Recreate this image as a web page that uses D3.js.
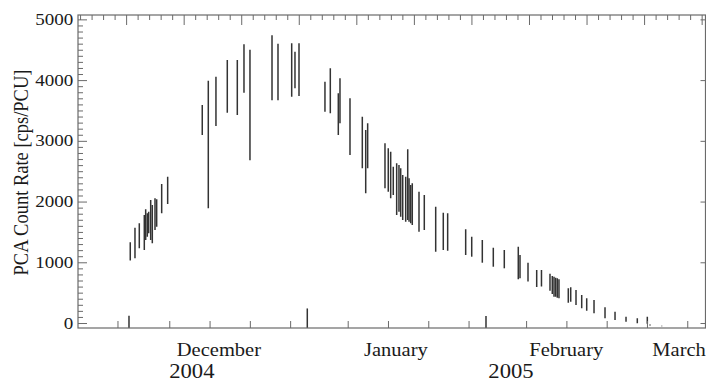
<!DOCTYPE html>
<html>
<head>
<meta charset="utf-8">
<script src="https://cdn.jsdelivr.net/npm/d3@7"></script>
<style>
  html, body { margin: 0; padding: 0; background: #fff; }
  svg { display: block; }
</style>
</head>
<body>
<svg id="chart" width="706" height="383"></svg>
<script>
// PCA light curve of the 2004/2005 outburst.
// Observation times in days counted from 2004 Dec 1, 0h UT,
// with the low / high end of the count-rate range for each pointing.
const obsDay = [
  -7.00, -6.78, -5.96, -5.21, -4.34, -4.10, -3.82, -3.58, -3.23, -2.95,
  -2.48, -2.19, -1.32, -0.28,  5.73,  6.78,  8.11, 10.08, 11.82, 12.98,
  14.02, 17.85, 18.89, 21.27, 21.84, 22.54, 23.98, 27.05, 27.98, 29.37,
  29.66, 31.40, 33.54, 34.13, 34.47, 37.48, 38.05, 38.47, 38.92, 39.51,
  39.91, 40.21, 40.56, 41.08, 41.43, 41.66, 41.95, 42.22, 43.39, 44.31,
  46.29, 47.61, 48.37, 51.50, 52.55, 54.39, 55.03, 56.30, 58.21, 60.64,
  60.94, 62.33, 63.84, 64.67, 66.15, 66.55, 66.85, 67.14, 67.42, 67.71,
  69.33, 69.75, 70.67, 71.66, 72.53, 73.80, 75.71, 77.45, 79.36, 81.32,
  83.06, 83.53, 85.56
];
const rateLow = [
  -150, 1030, 1066, 1230, 1202, 1367, 1421, 1477, 1367, 1312,
  1532, 1586, 1806, 1960, 3096, 1889, 3244, 3463, 3425, 3790,
  2680, 3670, 3670, 3727, 3865, 3738, -150, 3480, 3454, 3096,
  3289, 2767, 2548, 2136, 2548, 2218, 2162, 2053, 2108, 1779,
  1833, 1751, 1696, 1669, 1696, 1669, 1641, 1614, 1504, 1532,
  1174, 1202, 1191, 1120, 1092,  993, -150,  927,  901,  720,
   736,  685,  593,  603,  530,  478,  433,  433,  417,  407,
   334,  351,  296,  242,  203,  160,   77,   49,   21,   -5,
   -10,  -40,  -55
];
const rateHigh = [
   120, 1330, 1570, 1642, 1779, 1872, 1806, 1833, 2026, 1943,
  2053, 2037, 2289, 2410, 3590, 3990, 4057, 4331, 4331, 4590,
  4500, 4740, 4600, 4605, 4468, 4605,  240, 3974, 4194, 3782,
  4030, 3700, 3398, 3179, 3289, 2959, 2877, 2822, 2574, 2630,
  2602, 2548, 2437, 2410, 2860, 2382, 2273, 2300, 2163, 2108,
  1916, 1817, 1806, 1543, 1421, 1367,  115, 1240, 1202, 1257,
  1120,  993,  873,  873,  810,  774,  763,  746,  736,  720,
   571,  588,  543,  461,  407,  379,  259,  186,  104,   77,
   104,  -25,  -45
];

// Axis annotations
const rateTicks = [0, 1000, 2000, 3000, 4000, 5000];
const dateTicks = [
  "2004-11-22", "2004-12-01", "2004-12-08", "2004-12-15", "2004-12-22",
  "2005-01-01", "2005-01-08", "2005-01-15", "2005-01-22",
  "2005-02-01", "2005-02-08", "2005-02-15", "2005-02-22", "2005-03-01"
];
const monthNames = ["December", "January", "February", "March"];
const monthLabelAt = ["2004-12-09T15:00", "2005-01-09T09:00", "2005-02-07T23:30", "2005-02-27T14:00"];
const yearNames = ["2004", "2005"];
const yearLabelAt = ["2004-12-04T22:00", "2005-01-29T09:00"];
// The top axis counts days in steps of 2, with a long tick every 10 days.
const dayAxisStart = "2004-11-23T12:00";

const day0 = Date.parse("2004-12-01T00:00:00Z");
const toDay = s => (Date.parse((s.length === 10 ? s + "T00:00" : s) + ":00Z") - day0) / 864e5;

const svg = d3.select("#chart");
const L = 78, R = 705.5, T = 15, B = 328;
const FONT = "'Liberation Serif', 'Times New Roman', serif";
const AXIS = "#6a6a6a";
const INK = "#1a1a1a";

const x = d3.scaleLinear().domain([-15.86, 93.17]).range([L, R]);
const y = d3.scaleLinear().domain([-82, 5072]).range([B, T]);

// clip for the data
svg.append("defs").append("clipPath").attr("id", "plotClip")
  .append("rect").attr("x", L).attr("y", T).attr("width", R - L).attr("height", B - T);

// error bars
const obs = obsDay.map((d, i) => ({ d, lo: rateLow[i], hi: rateHigh[i] }));
svg.append("g").attr("clip-path", "url(#plotClip)")
  .selectAll("line").data(obs).join("line")
  .attr("x1", o => x(o.d)).attr("x2", o => x(o.d))
  .attr("y1", o => y(o.lo)).attr("y2", o => y(o.hi))
  .attr("stroke", "#333").attr("stroke-width", 1.5);

function styleAxis(g) {
  g.select(".domain").remove();
  g.selectAll(".tick line").attr("stroke", AXIS).attr("stroke-width", 1);
}

// left axis: major + minor ticks pointing inward
const minorRate = d3.range(100, 5001, 100).filter(v => v % 1000 !== 0);
svg.append("g").attr("transform", `translate(${L},0)`)
  .call(d3.axisLeft(y).tickValues(minorRate).tickSize(-5).tickFormat(""))
  .call(styleAxis);
const leftMajor = svg.append("g").attr("transform", `translate(${L},0)`)
  .call(d3.axisLeft(y).tickValues(rateTicks).tickSize(-9).tickPadding(4).tickFormat(d3.format("d")))
  .call(styleAxis);
leftMajor.selectAll(".tick text")
  .attr("font-family", FONT).attr("font-size", 16).attr("fill", INK)
  .attr("transform", "scale(1.19,1)");

// right axis
svg.append("g").attr("transform", `translate(${R},0)`)
  .call(d3.axisRight(y).tickValues(rateTicks).tickSize(-5).tickFormat(""))
  .call(styleAxis);

// bottom axis: calendar ticks
svg.append("g").attr("transform", `translate(0,${B})`)
  .call(d3.axisBottom(x).tickValues(dateTicks.map(toDay)).tickSize(-7).tickFormat(""))
  .call(styleAxis);

// top axis: day counter
const dayStart = toDay(dayAxisStart);
const dayTicks = d3.range(-5, 60).map(k => ({ k, d: dayStart + 2 * k }))
  .filter(t => t.d >= x.domain()[0] + 0.3 && t.d <= x.domain()[1] - 0.3);
svg.append("g").attr("transform", `translate(0,${T})`)
  .call(d3.axisTop(x).tickValues(dayTicks.filter(t => t.k % 5 !== 0).map(t => t.d)).tickSize(-5).tickFormat(""))
  .call(styleAxis);
svg.append("g").attr("transform", `translate(0,${T})`)
  .call(d3.axisTop(x).tickValues(dayTicks.filter(t => t.k % 5 === 0).map(t => t.d)).tickSize(-10).tickFormat(""))
  .call(styleAxis);

// frame
svg.append("rect").attr("x", L).attr("y", T).attr("width", R - L).attr("height", B - T)
  .attr("fill", "none").attr("stroke", AXIS).attr("stroke-width", 1.2);

// month and year labels
svg.append("g").selectAll("text").data(monthNames).join("text")
  .attr("transform", (m, i) => `translate(${x(toDay(monthLabelAt[i]))},356) scale(1.08,1)`)
  .attr("text-anchor", "middle").attr("font-family", FONT).attr("font-size", 19)
  .attr("fill", INK).text(m => m);
svg.append("g").selectAll("text").data(yearNames).join("text")
  .attr("transform", (m, i) => `translate(${x(toDay(yearLabelAt[i]))},378) scale(1.08,1)`)
  .attr("text-anchor", "middle").attr("font-family", FONT).attr("font-size", 21)
  .attr("fill", INK).text(m => m);

// y axis title
svg.append("text")
  .attr("transform", "translate(27.5,172.5) scale(1.15,1) rotate(-90)")
  .attr("text-anchor", "middle").attr("font-family", FONT).attr("font-size", 18.5)
  .attr("fill", INK).text("PCA Count Rate [cps/PCU]");
</script>
</body>
</html>
